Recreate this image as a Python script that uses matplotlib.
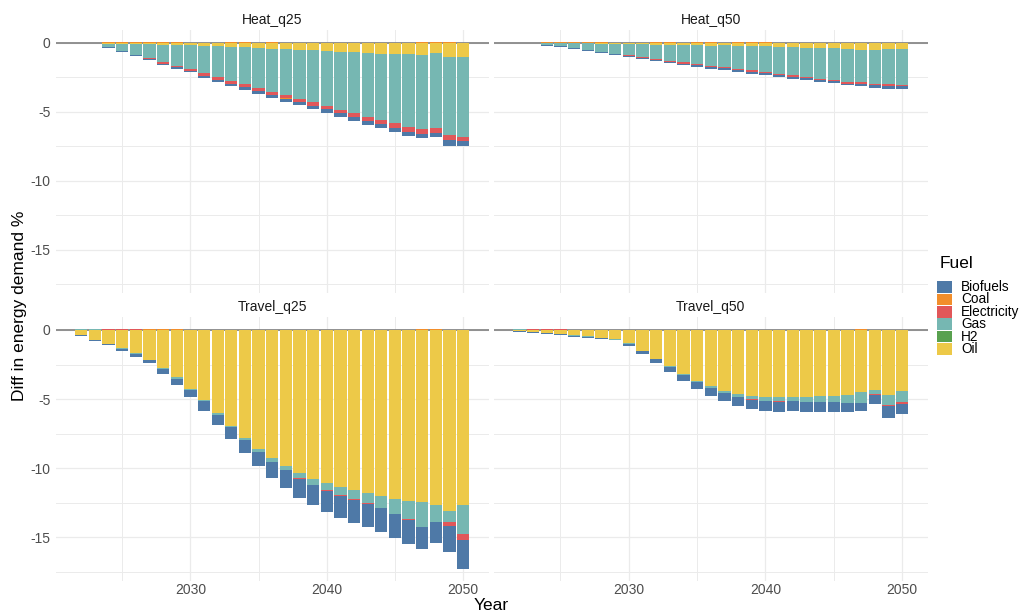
import matplotlib
matplotlib.use("Agg")
import matplotlib.pyplot as plt
from matplotlib.patches import Rectangle
import numpy as np

plt.rcParams['font.family'] = ['Liberation Sans', 'DejaVu Sans']
plt.rcParams['axes.unicode_minus'] = False

years = list(range(2022, 2051))
fuels = ['Biofuels', 'Coal', 'Electricity', 'Gas', 'H2', 'Oil']
fuel_colors = ['#4E79A7', '#F28E2B', '#E15759', '#76B7B2', '#59A14F', '#EDC948']
panel_titles = ['Heat_q25', 'Heat_q50', 'Travel_q25', 'Travel_q50']

# ---- Heat_q25 ----
heat_q25_oil = [0, 0, -0.05, -0.05, -0.05, -0.05, -0.14, -0.14, -0.14, -0.22, -0.22, -0.31, -0.31, -0.36, -0.46,
                -0.46, -0.53, -0.53, -0.60, -0.68, -0.68, -0.75, -0.82, -0.82, -0.82, -0.89, -0.75, -1.04, -1.04]
heat_q25_gas = [0, 0, -0.25, -0.55, -0.82, -1.05, -1.24, -1.50, -1.74, -1.96, -2.25, -2.46, -2.68, -2.90, -3.12,
                -3.33, -3.55, -3.77, -3.99, -4.20, -4.42, -4.64, -4.78, -5.00, -5.29, -5.36, -5.43, -5.65, -5.80]
heat_q25_elec = [0, 0, 0, 0, 0, -0.10, -0.12, -0.12, -0.14, -0.19, -0.19, -0.19, -0.22, -0.22, -0.22,
                 -0.22, -0.19, -0.27, -0.22, -0.22, -0.29, -0.29, -0.29, -0.34, -0.34, -0.34, -0.34, -0.36, -0.29]
heat_q25_coal = [0, 0, 0.07, 0.07, 0.07, 0.07, 0.07, 0.07, 0, 0, 0, 0.07, 0.07, 0, 0.07,
                 -0.07, 0, 0, 0, 0, 0, 0, 0, 0, 0, 0.07, 0.07, 0.07, 0]
heat_q25_h2 = [0] * 29
heat_q25_bio = [0, 0, -0.07, -0.07, -0.07, -0.06, -0.10, -0.13, -0.12, -0.14, -0.14, -0.14, -0.22, -0.22, -0.22,
                -0.22, -0.22, -0.24, -0.29, -0.29, -0.29, -0.29, -0.29, -0.31, -0.31, -0.31, -0.31, -0.43, -0.36]

# ---- Heat_q50 ----
heat_q50_oil = [0, 0, -0.03, -0.03, -0.03, -0.03, -0.07, -0.07, -0.07, -0.07, -0.17, -0.17, -0.17, -0.17, -0.24,
                -0.17, -0.24, -0.24, -0.24, -0.31, -0.31, -0.39, -0.39, -0.39, -0.46, -0.53, -0.53, -0.46, -0.46]
heat_q50_gas = [0, 0, -0.12, -0.19, -0.34, -0.48, -0.60, -0.75, -0.82, -0.97, -1.01, -1.16, -1.23, -1.35, -1.43,
                -1.59, -1.67, -1.74, -1.88, -1.93, -2.03, -2.10, -2.25, -2.32, -2.39, -2.32, -2.44, -2.51, -2.61]
heat_q50_elec = [0, 0, 0, 0, 0, 0, 0, 0, -0.07, -0.05, -0.05, -0.05, -0.12, -0.10, -0.07,
                 -0.05, -0.07, -0.12, -0.07, -0.07, -0.12, -0.05, -0.05, -0.07, -0.10, -0.12, -0.10, -0.12, -0.07]
heat_q50_coal = [0, 0, 0.07, 0.07, 0.07, 0.07, 0.07, 0, 0, 0, 0.07, 0.07, 0, 0.07, 0.07,
                 0, 0.07, 0.07, 0.07, 0, 0, 0, 0, 0, 0, 0, 0, 0, 0]
heat_q50_h2 = [0] * 29
heat_q50_bio = [0, 0, -0.05, -0.05, -0.05, -0.07, -0.07, -0.07, -0.05, -0.07, -0.07, -0.10, -0.10, -0.12, -0.14,
                -0.14, -0.14, -0.14, -0.12, -0.14, -0.14, -0.14, -0.12, -0.12, -0.12, -0.14, -0.19, -0.24, -0.19]

# ---- Travel_q25 ----
travel_q25_oil = [-0.34, -0.70, -0.98, -1.30, -1.66, -2.16, -2.74, -3.43, -4.25, -5.09, -5.98, -6.91, -7.78, -8.57, -9.22,
                  -9.86, -10.37, -10.80, -11.09, -11.38, -11.59, -11.81, -12.02, -12.24, -12.38, -12.46, -12.67, -13.10, -12.67]
travel_q25_gas = [0.05, 0.05, 0, -0.07, -0.07, 0, -0.07, -0.10, -0.07, -0.07, -0.14, -0.14, -0.14, -0.22, -0.29,
                  -0.29, -0.36, -0.43, -0.50, -0.58, -0.65, -0.70, -0.86, -1.08, -1.30, -1.80, -1.22, -0.79, -2.09]
travel_q25_elec = [0, 0, 0.07, 0.07, 0.07, 0, 0, 0, 0, 0, 0, 0, 0, 0, 0,
                   0, -0.07, 0, -0.07, -0.07, -0.07, -0.10, 0, 0, -0.07, 0, 0, -0.29, -0.43]
travel_q25_coal = [0, 0, 0, 0, 0, 0.07, 0.07, 0.07, 0, 0, 0, 0, 0, 0, 0,
                   0, 0, 0, 0, 0, 0, 0, 0, 0, 0, 0.07, 0.07, 0, 0]
travel_q25_h2 = [0] * 29
travel_q25_bio = [-0.07, -0.07, -0.14, -0.14, -0.22, -0.26, -0.36, -0.43, -0.50, -0.67, -0.72, -0.86, -1.01, -1.08, -1.22,
                  -1.30, -1.37, -1.44, -1.51, -1.58, -1.66, -1.66, -1.73, -1.73, -1.73, -1.58, -1.51, -1.87, -2.09]

# ---- Travel_q50 ----
travel_q50_oil = [-0.07, -0.14, -0.22, -0.29, -0.36, -0.43, -0.58, -0.65, -0.94, -1.51, -2.09, -2.60, -3.17, -3.68, -4.04,
                  -4.40, -4.62, -4.76, -4.83, -4.83, -4.83, -4.83, -4.76, -4.76, -4.69, -4.47, -4.33, -4.69, -4.40]
travel_q50_gas = [0.06, 0, 0, 0, -0.07, -0.05, 0, -0.05, -0.07, 0, 0, -0.07, -0.07, -0.07, -0.14,
                  -0.14, -0.22, -0.22, -0.29, -0.29, -0.29, -0.36, -0.43, -0.43, -0.58, -0.79, -0.29, -0.72, -0.79]
travel_q50_elec = [0, 0.06, 0.06, 0.06, 0, 0, 0, 0, 0, 0, 0, 0, 0, 0, 0,
                   0, 0, -0.07, 0, -0.07, -0.05, 0, 0, 0, 0, 0, -0.07, -0.07, -0.14]
travel_q50_coal = [0, 0, 0, 0, 0, 0, 0, 0, 0, 0, 0, 0, 0, 0, 0,
                   0, 0, 0, 0, 0, 0, 0, 0, 0, 0, 0.06, 0, 0, 0]
travel_q50_h2 = [0] * 29
travel_q50_bio = [-0.05, -0.07, -0.07, -0.07, -0.07, -0.10, -0.07, -0.05, -0.14, -0.22, -0.29, -0.36, -0.43, -0.50, -0.58,
                  -0.58, -0.65, -0.65, -0.72, -0.72, -0.72, -0.72, -0.72, -0.72, -0.65, -0.58, -0.65, -0.87, -0.72]

panels = {
    'Heat_q25': {'Oil': heat_q25_oil, 'H2': heat_q25_h2, 'Gas': heat_q25_gas, 'Electricity': heat_q25_elec,
                 'Coal': heat_q25_coal, 'Biofuels': heat_q25_bio},
    'Heat_q50': {'Oil': heat_q50_oil, 'H2': heat_q50_h2, 'Gas': heat_q50_gas, 'Electricity': heat_q50_elec,
                 'Coal': heat_q50_coal, 'Biofuels': heat_q50_bio},
    'Travel_q25': {'Oil': travel_q25_oil, 'H2': travel_q25_h2, 'Gas': travel_q25_gas, 'Electricity': travel_q25_elec,
                   'Coal': travel_q25_coal, 'Biofuels': travel_q25_bio},
    'Travel_q50': {'Oil': travel_q50_oil, 'H2': travel_q50_h2, 'Gas': travel_q50_gas, 'Electricity': travel_q50_elec,
                   'Coal': travel_q50_coal, 'Biofuels': travel_q50_bio},
}
stack_order = ['Oil', 'H2', 'Gas', 'Electricity', 'Coal', 'Biofuels']
color_of = dict(zip(fuels, fuel_colors))

W, H = 1021, 612
fig = plt.figure(figsize=(W / 100, H / 100), dpi=100)


def fx(px):
    return px / W


def fy(py):
    return 1 - py / H


# shared y range with 5% expansion
x_arr = np.array(years, dtype=float)
lo_all, hi_all = 0.0, 0.0
for name in panel_titles:
    neg = np.zeros(len(years))
    pos = np.zeros(len(years))
    for f in stack_order:
        v = np.array(panels[name][f], dtype=float)
        neg += np.minimum(v, 0)
        pos += np.maximum(v, 0)
    lo_all = min(lo_all, neg.min())
    hi_all = max(hi_all, pos.max())
bw = 0.9
xlo, xhi = x_arr.min() - bw / 2, x_arr.max() + bw / 2
xpad = 0.05 * (xhi - xlo)
ypad = 0.05 * (hi_all - lo_all)

col_px = [(55.5, 489), (493.5, 928)]
row_px = [(30, 293), (317, 581)]

for i, name in enumerate(panel_titles):
    r, c = divmod(i, 2)
    x0, x1 = col_px[c]
    y0, y1 = row_px[r]
    ax = fig.add_axes([fx(x0), fy(y1), fx(x1) - fx(x0), (y1 - y0) / H])
    ax.set_facecolor('none')
    for s in ax.spines.values():
        s.set_visible(False)
    ax.set_xlim(xlo - xpad, xhi + xpad)
    ax.set_ylim(lo_all - ypad, hi_all + ypad)
    ax.set_xticks([2030, 2040, 2050])
    ax.set_xticks([2025, 2035, 2045], minor=True)
    ax.set_yticks([0, -5, -10, -15])
    ax.set_yticks([-2.5, -7.5, -12.5, -17.5], minor=True)
    ax.grid(True, which='major', color='#EBEBEB', lw=0.9, zorder=0)
    ax.grid(True, which='minor', color='#EBEBEB', lw=0.7, zorder=0)
    ax.set_axisbelow(True)
    ax.tick_params(which='both', length=0, labelsize=10, labelcolor='#4D4D4D')
    ax.tick_params(axis='y', pad=3.5)
    ax.tick_params(axis='x', pad=1.5)
    if c == 1:
        ax.tick_params(labelleft=False)
    if r == 0:
        ax.tick_params(labelbottom=False)
    ax.axhline(0, color='#7F7F7F', lw=1.2, zorder=1)
    neg = np.zeros(len(years))
    pos = np.zeros(len(years))
    for f in stack_order:
        v = np.array(panels[name][f], dtype=float)
        nv = np.minimum(v, 0)
        pv = np.maximum(v, 0)
        ax.bar(x_arr, nv, bottom=neg, width=bw, color=color_of[f], lw=0, zorder=2)
        ax.bar(x_arr, pv, bottom=pos, width=bw, color=color_of[f], lw=0, zorder=2)
        neg += nv
        pos += pv
    fig.text(fx((x0 + x1) / 2), fy(y0 - 10), name, ha='center', va='center', fontsize=10, color='#1A1A1A')

# axis titles
fig.text(fx(20), fy(306), 'Diff in energy demand %', rotation=90, ha='center', va='center', fontsize=12.5)
fig.text(fx(491), fy(605), 'Year', ha='center', va='center', fontsize=12.5)

# legend
fig.text(fx(940), fy(263), 'Fuel', ha='left', va='center', fontsize=12.5)
for k, (f, colr) in enumerate(zip(fuels, fuel_colors)):
    cy = 287 + k * 12.4
    fig.add_artist(Rectangle((fx(936.5), fy(cy + 5.8)), fx(15), 11.6 / H, transform=fig.transFigure,
                             facecolor=colr, edgecolor='none'))
    fig.text(fx(961), fy(cy), f, ha='left', va='center', fontsize=9.8)

fig.savefig('out.png', dpi=100)
